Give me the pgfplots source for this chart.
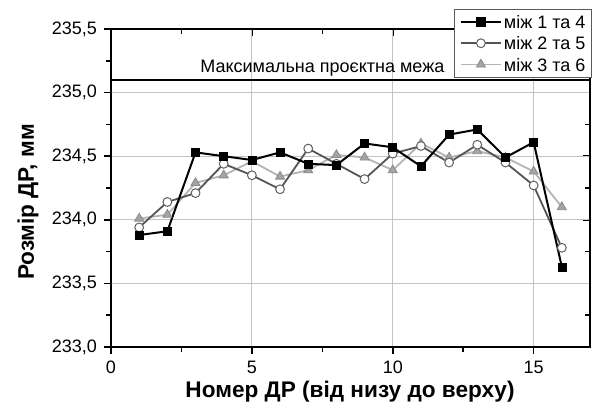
\documentclass[border=0pt]{standalone}
\usepackage{fontspec}
\setmainfont{Liberation Sans}
\usepackage{pgfplots}
\pgfplotsset{compat=1.18}

\definecolor{midgray}{HTML}{555555}
\definecolor{circedge}{HTML}{606060}
\definecolor{lightline}{HTML}{B4B4B4}
\definecolor{trifill}{HTML}{A4A4A4}
\definecolor{gridgray}{HTML}{C4C4C4}

\begin{document}
\begin{tikzpicture}
\pgfplotsset{
  common/.style={
    scale only axis,
    width=239.5pt, height=159pt,
    xmin=0, xmax=17, ymin=233, ymax=235.5,
    xtick={0,5,10,15},
    ytick={233,233.5,234,234.5,235,235.5},
    minor x tick num=1, minor y tick num=1,
    axis line style={line width=0.9pt},
    major tick length=3.5pt, minor tick length=2.5pt,
    every tick/.style={black, line width=0.8pt},
  },
}
% frame with inward ticks on the top and right sides
\begin{axis}[common,
  xtick pos=right, ytick pos=right, tick align=inside,
  xticklabels={}, yticklabels={},
]
\end{axis}
% main axis
\begin{axis}[common,
  xtick pos=left, ytick pos=left, tick align=outside,
  grid=major,
  major grid style={gridgray, line width=0.6pt},
  font=\fontsize{9}{10.8}\selectfont,
  /pgf/number format/assume math mode=true,
  yticklabel style={/pgf/number format/.cd, fixed, fixed zerofill, precision=1, use comma},
  xticklabel style={/pgf/number format/.cd, fixed, precision=0},
  xlabel={\bfseries Номер ДР (від низу до верху)},
  ylabel={\bfseries Розмір ДР, мм},
  xlabel style={font=\fontsize{11.3}{13}\selectfont, at={(axis description cs:0.499,0)}, anchor=center, yshift=-22.5pt},
  ylabel style={font=\fontsize{11.3}{13}\selectfont, at={(axis description cs:0,0.456)}, anchor=center, yshift=41.5pt},
  legend cell align=left,
  legend style={at={(1.004,1.063)}, anchor=north east, draw=black!65, line width=0.5pt,
    fill=white, font=\fontsize{9}{10.8}\selectfont, inner xsep=2.5pt, inner ysep=1pt,
    row sep=0pt, column sep=0.5pt,
    nodes={inner xsep=0.5pt, inner ysep=2pt, text height=6.6pt, text depth=0pt}},
  legend image code/.code={%
    \draw[mark repeat=2, mark phase=2, #1] plot coordinates {(0pt,0pt) (10pt,0pt) (20pt,0pt)};},
]
% design limit
\addplot[black, line width=0.7pt, forget plot] coordinates {(0,235.1) (17,235.1)};
\node[anchor=center, font=\fontsize{9}{10.8}\selectfont] at (axis cs:7.5,235.19) {Максимальна проєктна межа};

\addplot[lightline, line width=0.9pt, mark=triangle*, mark size=2.6pt, forget plot,
  mark options={fill=trifill, draw=trifill!85!black, line width=0.4pt}]
  coordinates {(1,234.01)(2,234.04)(3,234.29)(4,234.35)(5,234.46)(6,234.34)(7,234.39)(8,234.51)
               (9,234.49)(10,234.39)(11,234.60)(12,234.49)(13,234.54)(14,234.49)(15,234.38)(16,234.10)};
\addplot[midgray, line width=0.9pt, mark=*, mark size=2.2pt, forget plot,
  mark options={fill=white, draw=circedge, line width=0.5pt}]
  coordinates {(1,233.94)(2,234.14)(3,234.21)(4,234.44)(5,234.35)(6,234.24)(7,234.56)(8,234.44)
               (9,234.32)(10,234.52)(11,234.58)(12,234.45)(13,234.59)(14,234.45)(15,234.27)(16,233.78)};
\addplot[black, line width=1pt, mark=square*, mark size=2pt, forget plot,
  mark options={fill=black, draw=black, line width=0.3pt}]
  coordinates {(1,233.88)(2,233.91)(3,234.53)(4,234.50)(5,234.47)(6,234.53)(7,234.44)(8,234.43)
               (9,234.60)(10,234.57)(11,234.42)(12,234.67)(13,234.71)(14,234.49)(15,234.61)(16,233.63)};
\addlegendimage{black, line width=1pt, mark=square*, mark size=2pt, mark options={fill=black}}
\addlegendentry{між 1 та 4}
\addlegendimage{midgray, line width=0.9pt, mark=*, mark size=2.2pt, mark options={fill=white, draw=circedge, line width=0.5pt}}
\addlegendentry{між 2 та 5}
\addlegendimage{lightline, line width=0.9pt, mark=triangle*, mark size=2.6pt, mark options={fill=trifill, draw=trifill!85!black, line width=0.4pt}}
\addlegendentry{між 3 та 6}
\end{axis}
\pgfresetboundingbox
\path ([shift={(-55.5pt,-31pt)}]current axis.south west) rectangle ([shift={(4.5pt,14.5pt)}]current axis.north east);
\end{tikzpicture}
\end{document}
